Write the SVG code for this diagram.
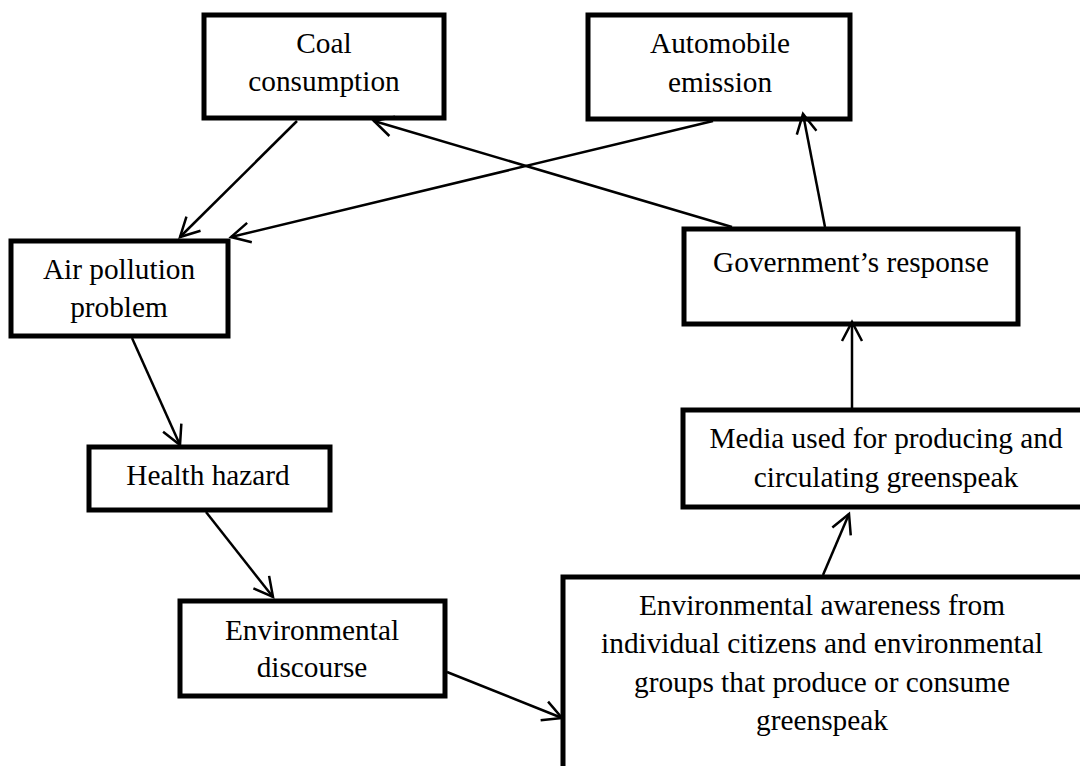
<svg xmlns="http://www.w3.org/2000/svg" width="1080" height="766" viewBox="0 0 1080 766">
<defs>
<style>
.box{fill:#fff;stroke:#000;stroke-width:5}
.t{font-family:"Liberation Serif","Times New Roman",serif;font-size:29.3px;fill:#000;text-anchor:middle}
.c{fill:none;stroke:#000;stroke-width:2.5;marker-end:url(#ah)}
</style>
<marker id="ah" markerUnits="userSpaceOnUse" viewBox="-24 -14 28 28" refX="0" refY="0" markerWidth="28" markerHeight="28" orient="auto">
<path d="M-19,-10 L0,0 L-19,10" fill="none" stroke="#000" stroke-width="2.5"/>
</marker>
</defs>
<rect width="1080" height="766" fill="#fff"/>
<g id="coal"><rect class="box" x="204" y="15" width="240" height="103"/><text class="t" x="324" y="53">Coal</text><text class="t" x="324" y="91">consumption</text></g>
<g id="auto"><rect class="box" x="588" y="15" width="262" height="104"/><text class="t" x="720" y="53">Automobile</text><text class="t" x="720" y="92">emission</text></g>
<g id="air"><rect class="box" x="11" y="241" width="217" height="95"/><text class="t" x="119" y="279">Air pollution</text><text class="t" x="119" y="317">problem</text></g>
<g id="gov"><rect class="box" x="684" y="229" width="334" height="95"/><text class="t" x="851" y="272">Government’s response</text></g>
<g id="media"><rect class="box" x="683" y="410" width="410" height="97"/><text class="t" x="886" y="448">Media used for producing and</text><text class="t" x="886" y="487">circulating greenspeak</text></g>
<g id="health"><rect class="box" x="89" y="447" width="241" height="63"/><text class="t" x="208" y="485">Health hazard</text></g>
<g id="discourse"><rect class="box" x="180" y="601" width="265" height="95"/><text class="t" x="312" y="640">Environmental</text><text class="t" x="312" y="677">discourse</text></g>
<g id="awareness"><rect class="box" x="563" y="577" width="530" height="210"/><text class="t" x="822" y="615">Environmental awareness from</text><text class="t" x="822" y="653">individual citizens and environmental</text><text class="t" x="822" y="692">groups that produce or consume</text><text class="t" x="822" y="730">greenspeak</text></g>
<g id="connectors">
<line class="c" x1="297" y1="121" x2="180" y2="237"/>
<line class="c" x1="713" y1="121" x2="231" y2="237"/>
<line class="c" x1="732" y1="227" x2="374" y2="121"/>
<line class="c" x1="825" y1="227" x2="803" y2="114"/>
<line class="c" x1="132" y1="338" x2="180" y2="445"/>
<line class="c" x1="206" y1="512" x2="273" y2="597"/>
<line class="c" x1="447" y1="672" x2="562" y2="718"/>
<line class="c" x1="823" y1="575" x2="849" y2="514"/>
<line class="c" x1="852" y1="408" x2="852" y2="322"/>
</g>
</svg>
